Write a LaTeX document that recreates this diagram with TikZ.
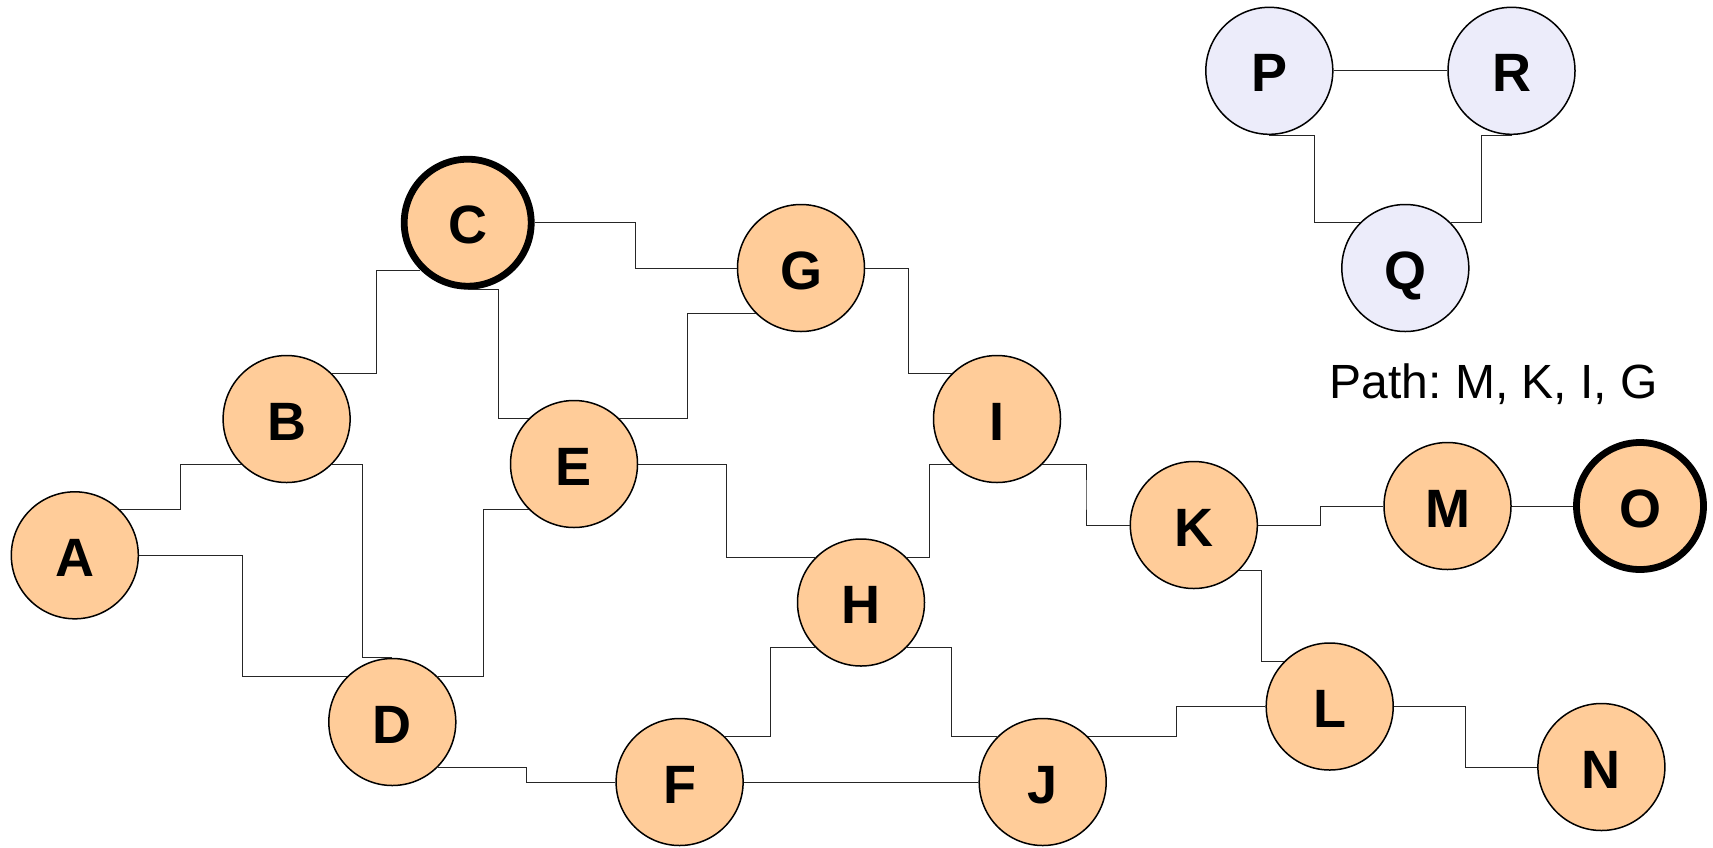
\documentclass[tikz,border=0pt]{standalone}
\usepackage{fontspec}
\setmainfont{Liberation Sans}
\usetikzlibrary{calc}
\definecolor{peach}{HTML}{FFCC99}
\definecolor{lilac}{HTML}{ECECFA}
\frenchspacing

\begin{document}
\begin{tikzpicture}[x=0.5pt, y=-0.5pt,
    vertex/.style={circle, draw, fill=peach, line width=0.75pt, minimum size=63.5pt, inner sep=0pt,
        font=\fontsize{27}{30}\selectfont\bfseries, text height=21pt, text depth=0pt},
    endpoint/.style={vertex, line width=3.4pt},
    spare/.style={vertex, fill=lilac},
    elbow/.style={to path={-| ($(\tikztostart)!0.5!(\tikztotarget)$) |- (\tikztotarget)}},
    wire/.style={line width=0.5pt, black!85}]
    \useasboundingbox (0, 0) rectangle (1713, 847);

    % Nodes
    \node[vertex] (A) at (74.8, 555.3) {A};
    \node[vertex] (B) at (286.6, 419) {B};
    \node[endpoint] (C) at (467.7, 222.7) {C};
    \node[vertex] (D) at (392.3, 722) {D};
    \node[vertex] (E) at (574, 464) {E};
    \node[vertex] (F) at (679.6, 782) {F};
    \node[vertex] (G) at (801, 268) {G};
    \node[vertex] (H) at (861, 602.5) {H};
    \node[vertex] (I) at (997, 419) {I};
    \node[vertex] (J) at (1042.7, 782) {J};
    \node[vertex] (K) at (1193.8, 525) {K};
    \node[vertex] (L) at (1329.7, 706.5) {L};
    \node[vertex] (M) at (1447.5, 506) {M};
    \node[vertex] (N) at (1601.4, 767) {N};
    \node[endpoint] (O) at (1640, 506) {O};
    \node[spare] (P) at (1269.3, 70.8) {P};
    \node[spare] (Q) at (1405.3, 268) {Q};
    \node[spare] (R) at (1511.5, 70.8) {R};
    \node[font=\fontsize{24}{28}\selectfont, anchor=base] (path) at (1493.9, 398.3) {Path: M, K, I, G};

    % Edges
    \draw[wire] (A.north east) to[elbow] (B.south west);
    \draw[wire] (A.east) to[elbow] (D.north west);
    \draw[wire] (B.north east) to[elbow] (C.south west);
    \draw[wire] (B.south east) to[elbow] (D.north);
    \draw[wire] (C.east) to[elbow] (G.west);
    \draw[wire] (C.south) to[elbow] (E.north west);
    \draw[wire] (D.north east) to[elbow] (E.south west);
    \draw[wire] (D.south east) to[elbow] (F.west);
    \draw[wire] (E.north east) to[elbow] (G.south west);
    \draw[wire] (E.east) to[elbow] (H.north west);
    \draw[wire] (F.north east) to[elbow] (H.south west);
    \draw[wire] (F.east) -- (J.west);
    \draw[wire] (G.east) to[elbow] (I.north west);
    \draw[wire] (H.north east) to[elbow] (I.south west);
    \draw[wire] (H.south east) to[elbow] (J.north west);
    \draw[wire] (I.south east) to[elbow] (K.west);
    \draw[wire] (J.north east) to[elbow] (L.west);
    \draw[wire] (K.east) to[elbow] (M.west);
    \draw[wire] (K.south east) to[elbow] (L.north west);
    \draw[wire] (L.east) to[elbow] (N.west);
    \draw[wire] (M.east) -- (O.west);
    \draw[wire] (P.east) -- (R.west);
    \draw[wire] (P.south) to[elbow] (Q.north west);
    \draw[wire] (R.south) to[elbow] (Q.north east);
\end{tikzpicture}
\end{document}
